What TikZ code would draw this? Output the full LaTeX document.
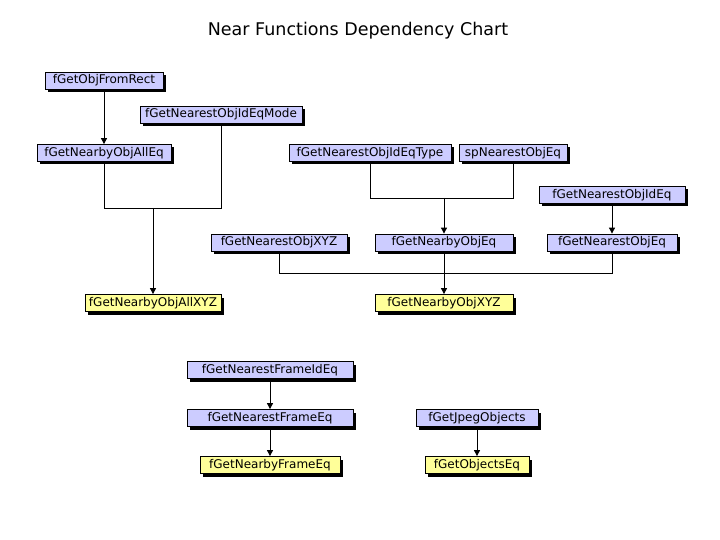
\documentclass[tikz,border=0pt]{standalone}
\usepackage{fontspec}
\setmainfont{DejaVu Sans}
\usetikzlibrary{shadows,arrows.meta}
\definecolor{boxblue}{RGB}{204,204,255}
\definecolor{boxyellow}{RGB}{255,255,153}
\tikzset{
  fbox/.style={draw=black, line width=0.8pt, inner sep=0pt, minimum height=17pt,
    font=\fontsize{12}{12}\selectfont, text=black,
    drop shadow={shadow xshift=3pt, shadow yshift=-3pt, fill=black, opacity=1}},
  bluebox/.style={fbox, fill=boxblue},
  yelbox/.style={fbox, fill=boxyellow},
  conn/.style={draw=black, line width=0.9pt},
  arr/.style={conn, -{Triangle[length=6pt,width=6pt]}}
}
\begin{document}
\begin{tikzpicture}[x=1pt,y=-1pt]
\useasboundingbox[fill=white] (0,0) rectangle (720,540);
\node[font=\fontsize{17.5}{17.5}\selectfont] (title) at (358,31) {Near Functions Dependency Chart};

\node[bluebox, minimum width=118pt] (objrect) at (104,80.5) {fGetObjFromRect};
\node[bluebox, minimum width=162pt] (mode) at (221,114.5) {fGetNearestObjIdEqMode};
\node[bluebox, minimum width=134pt] (allEq) at (104,153) {fGetNearbyObjAllEq};
\node[bluebox, minimum width=162pt] (type) at (370,153) {fGetNearestObjIdEqType};
\node[bluebox, minimum width=108pt] (sp) at (513,153) {spNearestObjEq};
\node[bluebox, minimum width=146pt] (idEq) at (612,195) {fGetNearestObjIdEq};
\node[bluebox, minimum width=136pt] (xyz) at (279,242.5) {fGetNearestObjXYZ};
\node[bluebox, minimum width=138pt] (nearbyEq) at (444,242.5) {fGetNearbyObjEq};
\node[bluebox, minimum width=130pt] (nearestEq) at (612,242.5) {fGetNearestObjEq};
\node[yelbox, minimum width=136pt] (allXYZ) at (153,303) {fGetNearbyObjAllXYZ};
\node[yelbox, minimum width=138pt] (nearbyXYZ) at (444,303) {fGetNearbyObjXYZ};
\node[bluebox, minimum width=166pt] (frameId) at (270,370) {fGetNearestFrameIdEq};
\node[bluebox, minimum width=166pt] (frameEq) at (270,418) {fGetNearestFrameEq};
\node[yelbox, minimum width=140pt] (nearbyFrame) at (270,465) {fGetNearbyFrameEq};
\node[bluebox, minimum width=122pt] (jpeg) at (477,418) {fGetJpegObjects};
\node[yelbox, minimum width=104pt] (objectsEq) at (477,465) {fGetObjectsEq};

\coordinate (j1) at (153,208);
\coordinate (j2) at (444,198);
\coordinate (j3) at (444,273);

\draw[arr] (objrect) -- (allEq);
\draw[conn] (allEq.south) -- (allEq.south |- j1) -- (mode.south |- j1) -- (mode.south);
\draw[arr] (j1) -- (allXYZ.north);
\draw[conn] (type.south) -- (type.south |- j2) -- (sp.south |- j2) -- (sp.south);
\draw[arr] (j2) -- (nearbyEq.north);
\draw[arr] (idEq) -- (nearestEq);
\draw[conn] (xyz.south) -- (xyz.south |- j3) -- (nearestEq.south |- j3) -- (nearestEq.south);
\draw[arr] (nearbyEq) -- (nearbyXYZ);
\draw[arr] (frameId) -- (frameEq);
\draw[arr] (frameEq) -- (nearbyFrame);
\draw[arr] (jpeg) -- (objectsEq);
\end{tikzpicture}
\end{document}
